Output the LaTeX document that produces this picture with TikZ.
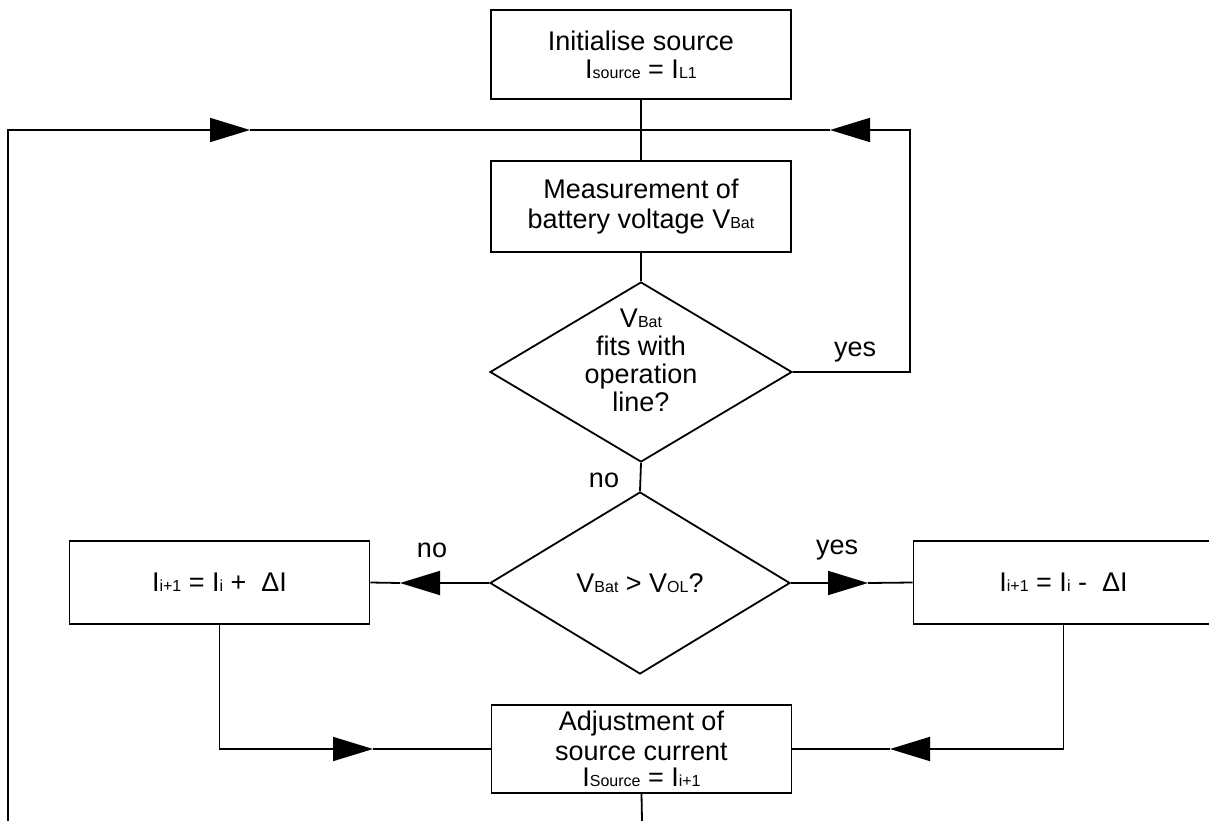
\documentclass[tikz,border=0pt]{standalone}
\usepackage{fontspec}
\setmainfont{Liberation Sans}
\usetikzlibrary{arrows.meta,shapes.geometric}
\newcommand\sbs[1]{{\fontsize{16}{16}\selectfont #1}}
\begin{document}
\begin{tikzpicture}[x=1pt,y=-1pt,
  every node/.style={font=\fontsize{27}{30}\selectfont},
  box/.style={draw, line width=1.8pt, rectangle, minimum width=300pt, inner sep=0pt, align=center},
  dia/.style={draw, line width=1.8pt, diamond, aspect=1.667, inner sep=0pt, align=center, minimum width=300pt, minimum height=180pt},
  flow/.style={line width=1.8pt},
  tipflow/.style={line width=1.8pt, -{Triangle[length=40pt,width=24pt]}},
  lbl/.style={inner sep=0pt}
]
\useasboundingbox (0,0) rectangle (1209,821);

\node[box, minimum height=89pt] (init) at (641,54.5) {Initialise source\\[-2pt]I\sbs{source} = I\sbs{L1}};
\node[box, minimum height=91pt] (meas) at (641,206.5) {Measurement of\\battery voltage V\sbs{Bat}};
\node[dia, minimum width=302pt, label={[inner sep=0pt, align=center, yshift=12pt, font=\fontsize{27}{28}\selectfont]center:{V\sbs{Bat}\\fits with\\operation\\line?}}] (fits) at (641,372) {};
\node[dia, minimum height=182pt] (cmp) at (640,583) {V\sbs{Bat} > V\sbs{OL}?};
\node[box, minimum height=83pt] (inc) at (219.5,582.5) {I\sbs{i+1} = I\sbs{i} +\ \ ΔI};
\node[box, minimum height=83pt] (dec) at (1063.5,582.5) {I\sbs{i+1} = I\sbs{i} -\ \ ΔI};
\node[box, minimum height=88pt] (adj) at (641.5,749) {Adjustment of\\source current\\[-4pt]I\sbs{Source} = I\sbs{i+1}};

\coordinate (jTop) at (641,130);
\coordinate (cTL) at (8,130);
\coordinate (eL) at (8,821);
\coordinate (aTL) at (250,130);
\coordinate (cTR) at (910,130);
\coordinate (aTR) at (830,130);
\coordinate (aCL) at (400,583);
\coordinate (aCR) at (868,583);
\coordinate (aBL) at (373,749);
\coordinate (aBR) at (890,749);
\coordinate (eB) at (642,821);

\draw[flow] (init.south) -- (meas.north);
\draw[flow] (meas.south) -- (fits.north);
\draw[flow] (fits.south) -- (cmp.north);
\draw[tipflow] (eL) -- (cTL) -- (aTL);
\draw[flow] (aTL) -- (jTop);
\draw[tipflow] (fits.east) -| (cTR) -- (aTR);
\draw[flow] (aTR) -- (jTop);
\draw[tipflow] (cmp.west) -- (aCL);
\draw[flow] (aCL) -- (inc.east);
\draw[tipflow] (cmp.east) -- (aCR);
\draw[flow] (aCR) -- (dec.west);
\draw[tipflow] (inc.south) |- (aBL);
\draw[flow] (aBL) -- (adj.west);
\draw[tipflow] (dec.south) |- (aBR);
\draw[flow] (aBR) -- (adj.east);
\draw[flow] (adj.south) -- (eB);

\node[lbl] (yes1) at (855,352) {yes};
\node[lbl] (no1) at (604,480) {no};
\node[lbl] (no2) at (432,550) {no};
\node[lbl] (yes2) at (837,550) {yes};
\end{tikzpicture}
\end{document}
